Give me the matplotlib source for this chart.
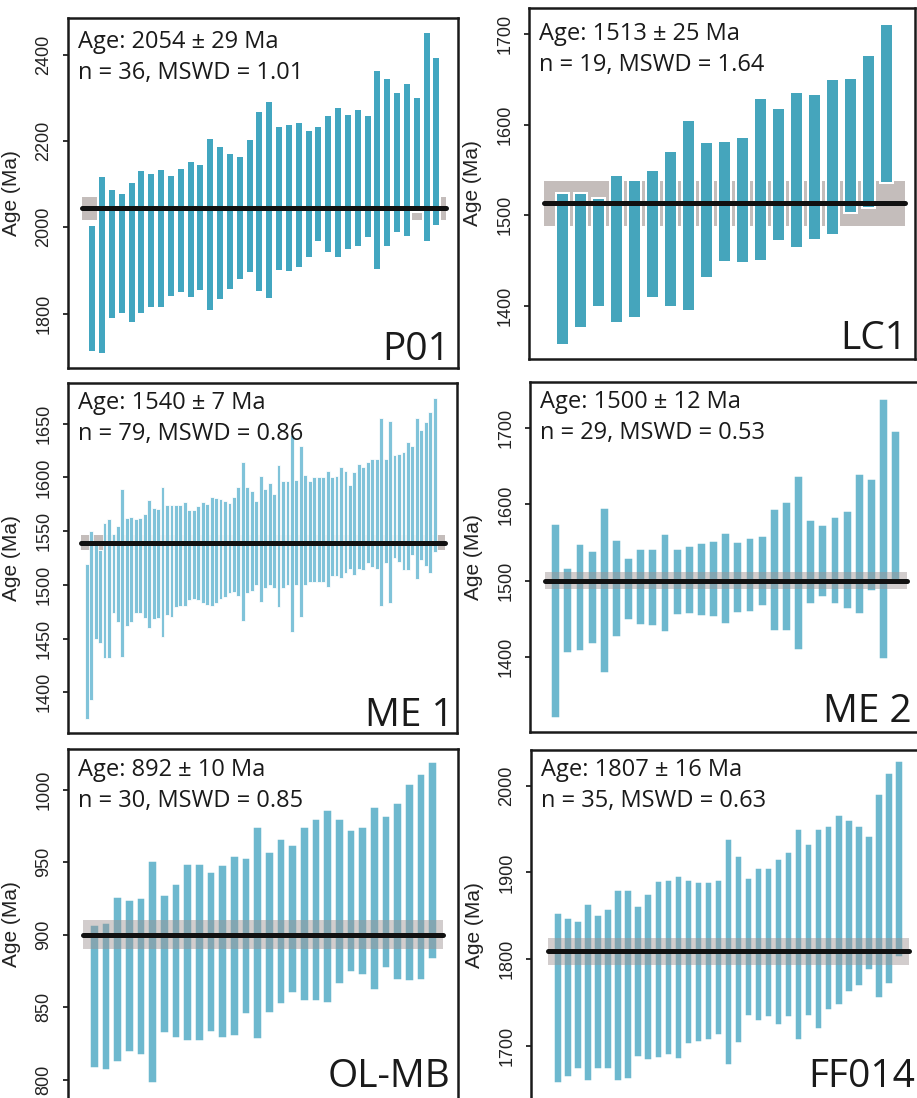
import numpy as np
import matplotlib.pyplot as plt

# upper / lower ends of each age bar (Ma)
p01_upper = [2005, 2119, 2088, 2080, 2105, 2132, 2126, 2135, 2122, 2138, 2153, 2147,
             2208, 2188, 2173, 2166, 2205, 2269, 2293, 2235, 2239, 2245, 2226, 2234,
             2261, 2279, 2263, 2275, 2261, 2365, 2345, 2313, 2335, 2301, 2452, 2394]
p01_lower = [1712, 1707, 1788, 1799, 1778, 1799, 1813, 1813, 1839, 1847, 1837, 1853,
             1805, 1832, 1855, 1878, 1893, 1850, 1834, 1898, 1897, 1906, 1929, 1967,
             1941, 1928, 1947, 1955, 1975, 1901, 1954, 1986, 1978, 2036, 1965, 2002]

lc1_upper = [1525, 1524, 1519, 1544, 1539, 1550, 1571, 1605, 1581, 1582, 1586, 1630,
             1619, 1636, 1634, 1651, 1652, 1677, 1711]
lc1_lower = [1357, 1375, 1399, 1381, 1386, 1408, 1398, 1394, 1431, 1448, 1447, 1449,
             1471, 1464, 1472, 1478, 1502, 1508, 1536]

me1_upper = [1519, 1550, 1540, 1532, 1558, 1561, 1547, 1555, 1589, 1562, 1563, 1561,
             1562, 1566, 1579, 1572, 1571, 1591, 1574, 1574, 1574, 1574, 1577, 1570,
             1570, 1573, 1577, 1575, 1582, 1581, 1580, 1578, 1576, 1582, 1591, 1614,
             1591, 1587, 1578, 1601, 1589, 1595, 1585, 1612, 1597, 1597, 1640, 1598,
             1629, 1602, 1597, 1600, 1600, 1600, 1606, 1600, 1601, 1610, 1606, 1593,
             1605, 1613, 1610, 1614, 1617, 1617, 1655, 1617, 1653, 1621, 1622, 1624,
             1633, 1629, 1655, 1644, 1652, 1661, 1674]
me1_lower = [1375, 1393, 1450, 1446, 1432, 1432, 1474, 1465, 1433, 1462, 1465, 1474,
             1474, 1469, 1460, 1468, 1469, 1451, 1472, 1470, 1479, 1480, 1480, 1486,
             1487, 1486, 1483, 1481, 1480, 1483, 1487, 1489, 1492, 1493, 1490, 1466,
             1492, 1494, 1500, 1484, 1497, 1500, 1497, 1479, 1497, 1500, 1456, 1500,
             1470, 1500, 1503, 1503, 1503, 1503, 1498, 1508, 1508, 1506, 1511, 1515,
             1509, 1515, 1514, 1520, 1517, 1515, 1480, 1520, 1483, 1525, 1521, 1514,
             1514, 1528, 1505, 1523, 1518, 1511, 1531]

me2_upper = [1575, 1516, 1548, 1539, 1596, 1553, 1530, 1541, 1542, 1561, 1542, 1545,
             1549, 1552, 1562, 1551, 1556, 1558, 1594, 1603, 1638, 1580, 1573, 1584,
             1592, 1640, 1633, 1738, 1696]
me2_lower = [1319, 1405, 1407, 1417, 1378, 1426, 1448, 1441, 1440, 1432, 1455, 1456,
             1453, 1452, 1443, 1458, 1459, 1466, 1434, 1434, 1409, 1469, 1479, 1469,
             1462, 1456, 1486, 1397, 1495]

olmb_upper = [907, 908, 926, 924, 925, 951, 927, 935, 949, 949, 943, 948, 954, 953, 974,
              957, 966, 962, 974, 980, 986, 980, 972, 974, 988, 982, 991, 1004, 1011, 1019]
olmb_lower = [808, 807, 812, 819, 817, 798, 832, 829, 827, 827, 833, 829, 830, 845, 828,
              846, 852, 860, 854, 854, 853, 866, 874, 872, 862, 877, 869, 868, 869, 883]

ff014_upper = [1853, 1848, 1844, 1864, 1851, 1858, 1880, 1880, 1861, 1875, 1890, 1891,
               1896, 1891, 1889, 1889, 1891, 1939, 1919, 1894, 1905, 1905, 1916, 1924,
               1950, 1933, 1950, 1954, 1966, 1960, 1954, 1942, 1990, 2015, 2028]
ff014_lower = [1658, 1665, 1674, 1660, 1674, 1674, 1660, 1662, 1687, 1684, 1686, 1690,
               1685, 1703, 1705, 1707, 1713, 1678, 1704, 1735, 1729, 1733, 1724, 1733,
               1707, 1735, 1720, 1742, 1747, 1762, 1769, 1788, 1756, 1772, 1803]

sample_names = ["P01", "LC1", "ME 1", "ME 2", "OL-MB", "FF014"]
age_labels = ["Age: 2054 ± 29 Ma", "Age: 1513 ± 25 Ma", "Age: 1540 ± 7 Ma",
              "Age: 1500 ± 12 Ma", "Age: 892 ± 10 Ma", "Age: 1807 ± 16 Ma"]
stat_labels = ["n = 36, MSWD = 1.01", "n = 19, MSWD = 1.64", "n = 79, MSWD = 0.86",
               "n = 29, MSWD = 0.53", "n = 30, MSWD = 0.85", "n = 35, MSWD = 0.63"]
mean_age = [2044, 1513, 1539, 1500, 900, 1809]
mean_err = [27, 25, 7, 11, 10, 16]
tick_values = [[1800, 2000, 2200, 2400], [1400, 1500, 1600, 1700],
               [1400, 1450, 1500, 1550, 1600, 1650], [1400, 1500, 1600, 1700],
               [800, 850, 900, 950, 1000], [1700, 1800, 1900, 2000]]

uppers = [p01_upper, lc1_upper, me1_upper, me2_upper, olmb_upper, ff014_upper]
lowers = [p01_lower, lc1_lower, me1_lower, me2_lower, olmb_lower, ff014_lower]

# layout, all in pixels of the 917 x 1098 figure
boxes = [(68, 18, 458, 368), (529, 8, 915, 359), (68, 383, 457, 733),
         (530, 382, 918, 732), (68, 749, 458, 1100), (531, 750, 918, 1100)]
ylims = [(1674, 2485), (1341, 1729), (1362, 1688), (1301, 1761), (786, 1028), (1638, 2041)]
xlims = [(-1.47, 38.2), (-0.86, 20.58), (-3.19, 84.0), (-1.12, 30.84), (-1.25, 32.17), (-1.69, 36.9)]
spans = [(0, 37), (0, 20), (-0.3, 81.2), (0.15, 29.9), (0, 30.9), (0, 36)]
pitch_px = [9.83, 18.0, 4.46, 12.14, 11.67, 10.03]
bar_px = [6.0, 11.7, 3.0, 7.3, 7.3, 6.0]
halo_px = [2.0, 2.0, 0.8, 1.5, 1.5, 1.5]
bar_colors = ["#42a6c0", "#45a5bc", "#80c3d9", "#6db8ce", "#6db8ce", "#6db8ce"]
band_on_top = [False, False, False, True, True, True]
text_dy = [30, 32, 26, 26, 27, 26]
name_inset = [(8, 8), (8, 10), (3, 7), (6, 10), (8, 13), (3, 13)]

FIG_W, FIG_H = 917, 1098
PT = 0.72

plt.rcParams["font.family"] = ["Liberation Sans", "DejaVu Sans"]
fig = plt.figure(figsize=(FIG_W / 100, FIG_H / 100), dpi=100)

for i in range(6):
    l, t, r, b = boxes[i]
    ax = fig.add_axes([l / FIG_W, 1 - b / FIG_H, (r - l) / FIG_W, (b - t) / FIG_H])

    upper = np.array(uppers[i])
    lower = np.array(lowers[i])
    x = np.arange(1, len(upper) + 1)
    lo, hi = spans[i]

    if band_on_top[i]:
        ax.fill_between([lo, hi], mean_age[i] - mean_err[i], mean_age[i] + mean_err[i],
                        color="#9c9290", alpha=0.45, lw=0, zorder=3)
    else:
        ax.fill_between([lo, hi], mean_age[i] - mean_err[i], mean_age[i] + mean_err[i],
                        color="#c4bdbb", lw=0, zorder=1)

    ax.bar(x, upper - lower, bottom=lower,
           width=(bar_px[i] + halo_px[i]) / pitch_px[i],
           color=bar_colors[i], edgecolor="white",
           linewidth=halo_px[i] * PT, zorder=2)

    ax.plot([lo, hi], [mean_age[i], mean_age[i]], color="#111111", lw=3.6,
            solid_capstyle="round", zorder=4)

    ax.set_xlim(*xlims[i])
    ax.set_ylim(*ylims[i])
    ax.set_xticks([])
    ax.set_yticks(tick_values[i])
    ax.tick_params(axis="y", direction="out", length=3.6, width=1.3, pad=13.7,
                   labelsize=13, labelrotation=90, colors="#222222")
    plt.setp(ax.get_yticklabels(), ha="center", va="center")
    for sp in ax.spines.values():
        sp.set_linewidth(1.8)
        sp.set_color("#1a1a1a")

    ax.set_ylabel("Age (Ma)", fontsize=15, color="#222222")
    ax.yaxis.set_label_coords(-47 / (r - l), 0.5)

    ax.annotate(age_labels[i], xy=(0, 1), xycoords="axes fraction",
                xytext=(10 * PT, -text_dy[i] * PT), textcoords="offset points",
                ha="left", va="baseline", fontsize=17, family="Open Sans",
                color="#1a1a1a", zorder=6)
    ax.annotate(stat_labels[i], xy=(0, 1), xycoords="axes fraction",
                xytext=(10 * PT, -(text_dy[i] + 31) * PT), textcoords="offset points",
                ha="left", va="baseline", fontsize=17, family="Open Sans",
                color="#1a1a1a", zorder=6)

    dx, dy = name_inset[i]
    ax.annotate(sample_names[i], xy=(1, 0), xycoords="axes fraction",
                xytext=(-dx * PT, dy * PT), textcoords="offset points",
                ha="right", va="baseline", fontsize=28, family="Open Sans",
                color="#1a1a1a", zorder=6)

fig.savefig("out.png", dpi=100)
